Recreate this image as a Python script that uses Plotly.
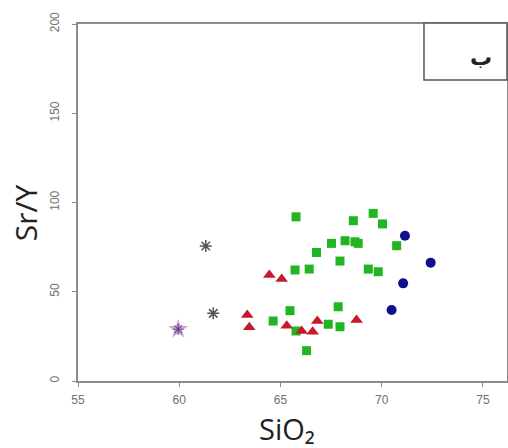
import plotly.graph_objects as go

# Data
green_x = [65.77, 69.58, 70.04, 68.60, 67.52, 68.19, 68.68, 68.84, 66.78, 67.94,
           65.72, 66.42, 69.34, 69.83, 70.74, 65.47, 64.64, 65.77, 66.29, 67.36,
           67.94, 67.85]
green_y = [92.0, 93.9, 88.0, 89.8, 77.1, 78.6, 78.0, 77.1, 72.0, 67.2,
           62.2, 62.7, 62.7, 61.2, 75.8, 39.4, 33.6, 28.0, 17.0, 31.8,
           30.4, 41.6]

red_x = [64.45, 65.06, 63.36, 63.46, 65.31, 66.05, 66.59, 66.82, 68.76]
red_y = [59.4, 57.1, 37.0, 30.1, 31.0, 28.0, 27.6, 33.6, 34.2]

blue_x = [71.15, 72.42, 71.06, 70.49]
blue_y = [81.4, 66.3, 54.7, 39.8]

gray_x = [61.31, 61.68]
gray_y = [75.6, 37.9]

purple_x = [59.95]
purple_y = [29.0]

x_ticks = [55, 60, 65, 70, 75]
y_ticks = [0, 50, 100, 150, 200]
legend_label = "ب"

fig = go.Figure()
fig.add_trace(go.Scatter(x=purple_x, y=purple_y, mode="markers",
                         marker=dict(symbol="star", size=15, color="rgba(175,130,205,0.7)",
                                     line=dict(width=0))))
fig.add_trace(go.Scatter(x=purple_x, y=purple_y, mode="markers",
                         marker=dict(symbol="asterisk-open", size=9, color="#6a4a80",
                                     line=dict(width=1.2, color="#6a4a80"))))
fig.add_trace(go.Scatter(x=gray_x, y=gray_y, mode="markers",
                         marker=dict(symbol="asterisk-open", size=10, color="#555555",
                                     line=dict(width=1.5, color="#555555"))))
fig.add_trace(go.Scatter(x=green_x, y=green_y, mode="markers",
                         marker=dict(symbol="square", size=9, color="#22b522",
                                     line=dict(width=0))))
fig.add_trace(go.Scatter(x=red_x, y=red_y, mode="markers",
                         marker=dict(symbol="triangle-up", size=11, color="#c41a2c",
                                     line=dict(width=0))))
fig.add_trace(go.Scatter(x=blue_x, y=blue_y, mode="markers",
                         marker=dict(symbol="circle", size=10, color="#10108c",
                                     line=dict(width=0))))

axis_common = dict(showgrid=False, zeroline=False, showline=True, linecolor="#8c8c8c",
                   linewidth=1.5, mirror=True, ticks="outside", ticklen=4,
                   tickcolor="#8c8c8c", tickwidth=1, automargin=False,
                   tickfont=dict(family="Liberation Sans", size=12, color="#707070"))

fig.update_layout(
    width=508, height=448,
    margin=dict(l=78, r=1, t=24, b=67),
    paper_bgcolor="white", plot_bgcolor="white",
    showlegend=False,
    xaxis=dict(range=[55, 76.19], tickvals=x_ticks, ticktext=[str(v) for v in x_ticks],
               ticklabelstandoff=3, **axis_common),
    yaxis=dict(range=[0, 200], tickvals=y_ticks, ticktext=[str(v) for v in y_ticks],
               tickangle=-90, ticklabelstandoff=8, **axis_common),
)

fig.add_annotation(text="SiO₂", xref="paper", yref="paper", x=0.487, y=-0.132,
                   xanchor="center", yanchor="middle", showarrow=False,
                   font=dict(family="Open Sans", size=29, color="#222222"))
fig.add_annotation(text="Sr/Y", xref="paper", yref="paper", x=-0.1235, y=0.47,
                   xanchor="center", yanchor="middle", textangle=-90, showarrow=False,
                   font=dict(family="Open Sans", size=30, color="#222222"))

fig.add_shape(type="rect", xref="paper", yref="paper", x0=0.8065, x1=1.0, y0=0.843, y1=1.003,
              line=dict(color="#555555", width=1.5), fillcolor="white")
fig.add_annotation(text="<b>" + legend_label + "</b>", xref="paper", yref="paper",
                   x=0.939, y=0.907, xanchor="center", yanchor="middle", showarrow=False,
                   font=dict(family="DejaVu Sans", size=22, color="#222222"))

fig.write_html("out.html", config={"displayModeBar": False},
               post_script="document.body.style.margin='0px';")
